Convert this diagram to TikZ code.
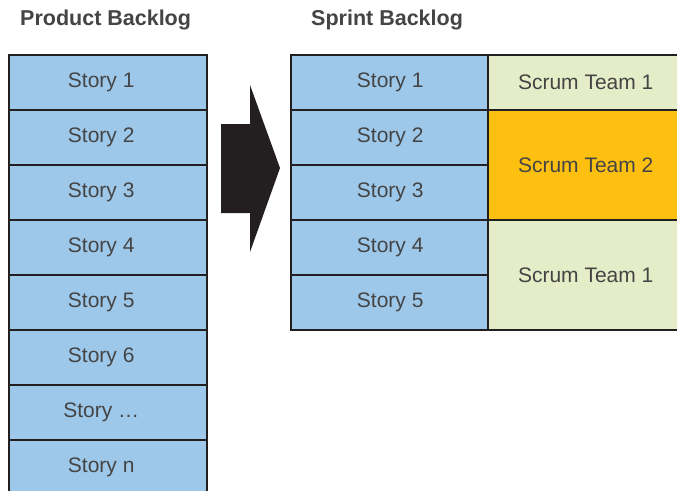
\documentclass[tikz,border=0pt]{standalone}
\usepackage{fontspec}
\setmainfont{Liberation Sans}
\usetikzlibrary{positioning}
\definecolor{storyblue}{HTML}{9DC8EA}
\definecolor{teamgreen}{HTML}{E5EDC8}
\definecolor{teamorange}{HTML}{FDC010}
\definecolor{inkgray}{HTML}{231F20}
\definecolor{textgray}{HTML}{444444}
\begin{document}
\begin{tikzpicture}[x=1pt,y=-1pt,
  cell/.style={draw=inkgray,line width=2.4pt,minimum width=198pt,minimum height=55pt,
    inner sep=0pt,anchor=north west,text=textgray,font=\fontsize{21}{25}\selectfont},
  story/.style={cell,fill=storyblue},
  pbstory/.style={story,execute at begin node=\hspace*{-14pt}},
  team/.style={cell,minimum width=195pt,fill=teamgreen},
  title/.style={anchor=west,inner sep=0pt,text=textgray,
    font=\fontsize{21.5}{25}\selectfont\bfseries}]
 \clip (0,0) rectangle (677,490);
 \begin{scope}
  \node[title] (pbtitle) at (20,20) {Product Backlog};
  \foreach \lbl [count=\i from 0] in {1,2,3,4,5,6,…,n}
   \node[pbstory] (pb\i) at (8,{54+55*\i}) {Story \lbl};
 \end{scope}
 \fill[inkgray] (221,124) -- (250,124) -- (250,85) -- (280,168) -- (250,252)
   -- (250,213) -- (221,213) -- cycle;
 \begin{scope}
  \node[title] (sbtitle) at (311,20) {Sprint Backlog};
  \foreach \i in {1,...,5}
   \node[story] (sb\i) at (290,{55*\i-1}) {Story \i};
  \node[team] (st1) at (487,54) {Scrum Team 1};
  \node[team,minimum height=110pt,fill=teamorange] (st2) at (487,109) {Scrum Team 2};
  \node[team,minimum height=110pt] (st3) at (487,219) {Scrum Team 1};
 \end{scope}
\end{tikzpicture}
\end{document}
